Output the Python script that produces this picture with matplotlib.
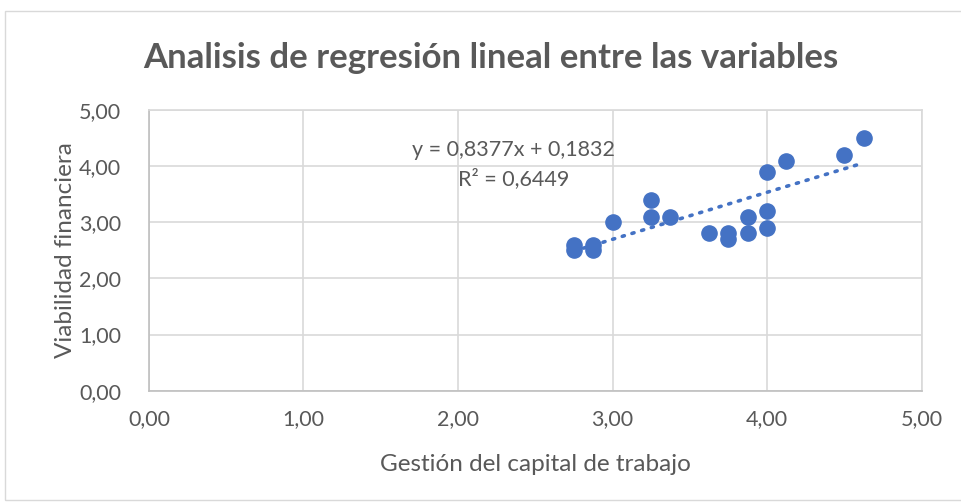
import numpy as np
import matplotlib.pyplot as plt
from matplotlib.patches import Rectangle

# datos
gestion = [2.75, 2.75, 2.875, 2.875, 3.0, 3.25, 3.25, 3.375, 3.625, 3.75,
           3.75, 3.875, 3.875, 4.0, 4.0, 4.0, 4.125, 4.5, 4.625]
viabilidad = [2.6, 2.5, 2.6, 2.5, 3.0, 3.4, 3.1, 3.1, 2.8, 2.8,
              2.7, 3.1, 2.8, 3.9, 3.2, 2.9, 4.1, 4.2, 4.5]
pendiente = 0.8377
intercepto = 0.1832
r2 = 0.6449
ticks = [0, 1, 2, 3, 4, 5]

azul = '#4472C4'
gris = '#595959'
plt.rcParams['font.family'] = ['Lato', 'DejaVu Sans']


def coma(v, dec=2):
    return f'{v:.{dec}f}'.replace('.', ',')


fig = plt.figure(figsize=(9.61, 5.04), dpi=100)
fig.patches.append(Rectangle((5 / 961, 4 / 504), 960 / 961, 489 / 504,
                             transform=fig.transFigure, fill=False,
                             edgecolor='#d9d9d9', linewidth=1))
ax = fig.add_axes([0.155, 0.2248, 0.804, 0.557])

ax.scatter(gestion, viabilidad, s=120, color=azul, zorder=3)

# linea de tendencia
xt = np.array([min(gestion), max(gestion)])
ax.plot(xt, pendiente * xt + intercepto, color=azul, linestyle=(0, (0.6, 2.2)),
        linewidth=2.6, dash_capstyle='round', zorder=2)

ax.set_xlim(0, 5)
ax.set_ylim(0, 5)
ax.set_xticks(ticks)
ax.set_yticks(ticks)
ax.set_xticklabels([coma(t) for t in ticks])
ax.set_yticklabels([coma(t) for t in ticks])
ax.tick_params(length=0, labelsize=15.5, colors=gris)
ax.tick_params(axis='x', pad=13)
ax.tick_params(axis='y', pad=20)
ax.grid(True, color='#d9d9d9', linewidth=1.2)
ax.set_axisbelow(True)
for s in ax.spines.values():
    s.set_color('#d9d9d9')
    s.set_linewidth(1.2)
ax.spines['left'].set_color('#bfbfbf')
ax.spines['bottom'].set_color('#bfbfbf')

ax.set_xlabel('Gestión del capital de trabajo', fontsize=17.5, color=gris, labelpad=18)
ax.set_ylabel('Viabilidad financiera', fontsize=17.5, color=gris, labelpad=2)

fig.text(0.511, 0.884, 'Analisis de regresión lineal entre las variables',
         ha='center', va='center', fontsize=25, fontweight='bold', color=gris)

ax.text(2.36, 4.28, f'y = {coma(pendiente, 4)}x + {coma(intercepto, 4)}',
        ha='center', va='center', fontsize=15.5, color=gris)
ax.text(2.36, 3.78, f'R² = {coma(r2, 4)}',
        ha='center', va='center', fontsize=15.5, color=gris)

fig.savefig('out.png', dpi=100)
